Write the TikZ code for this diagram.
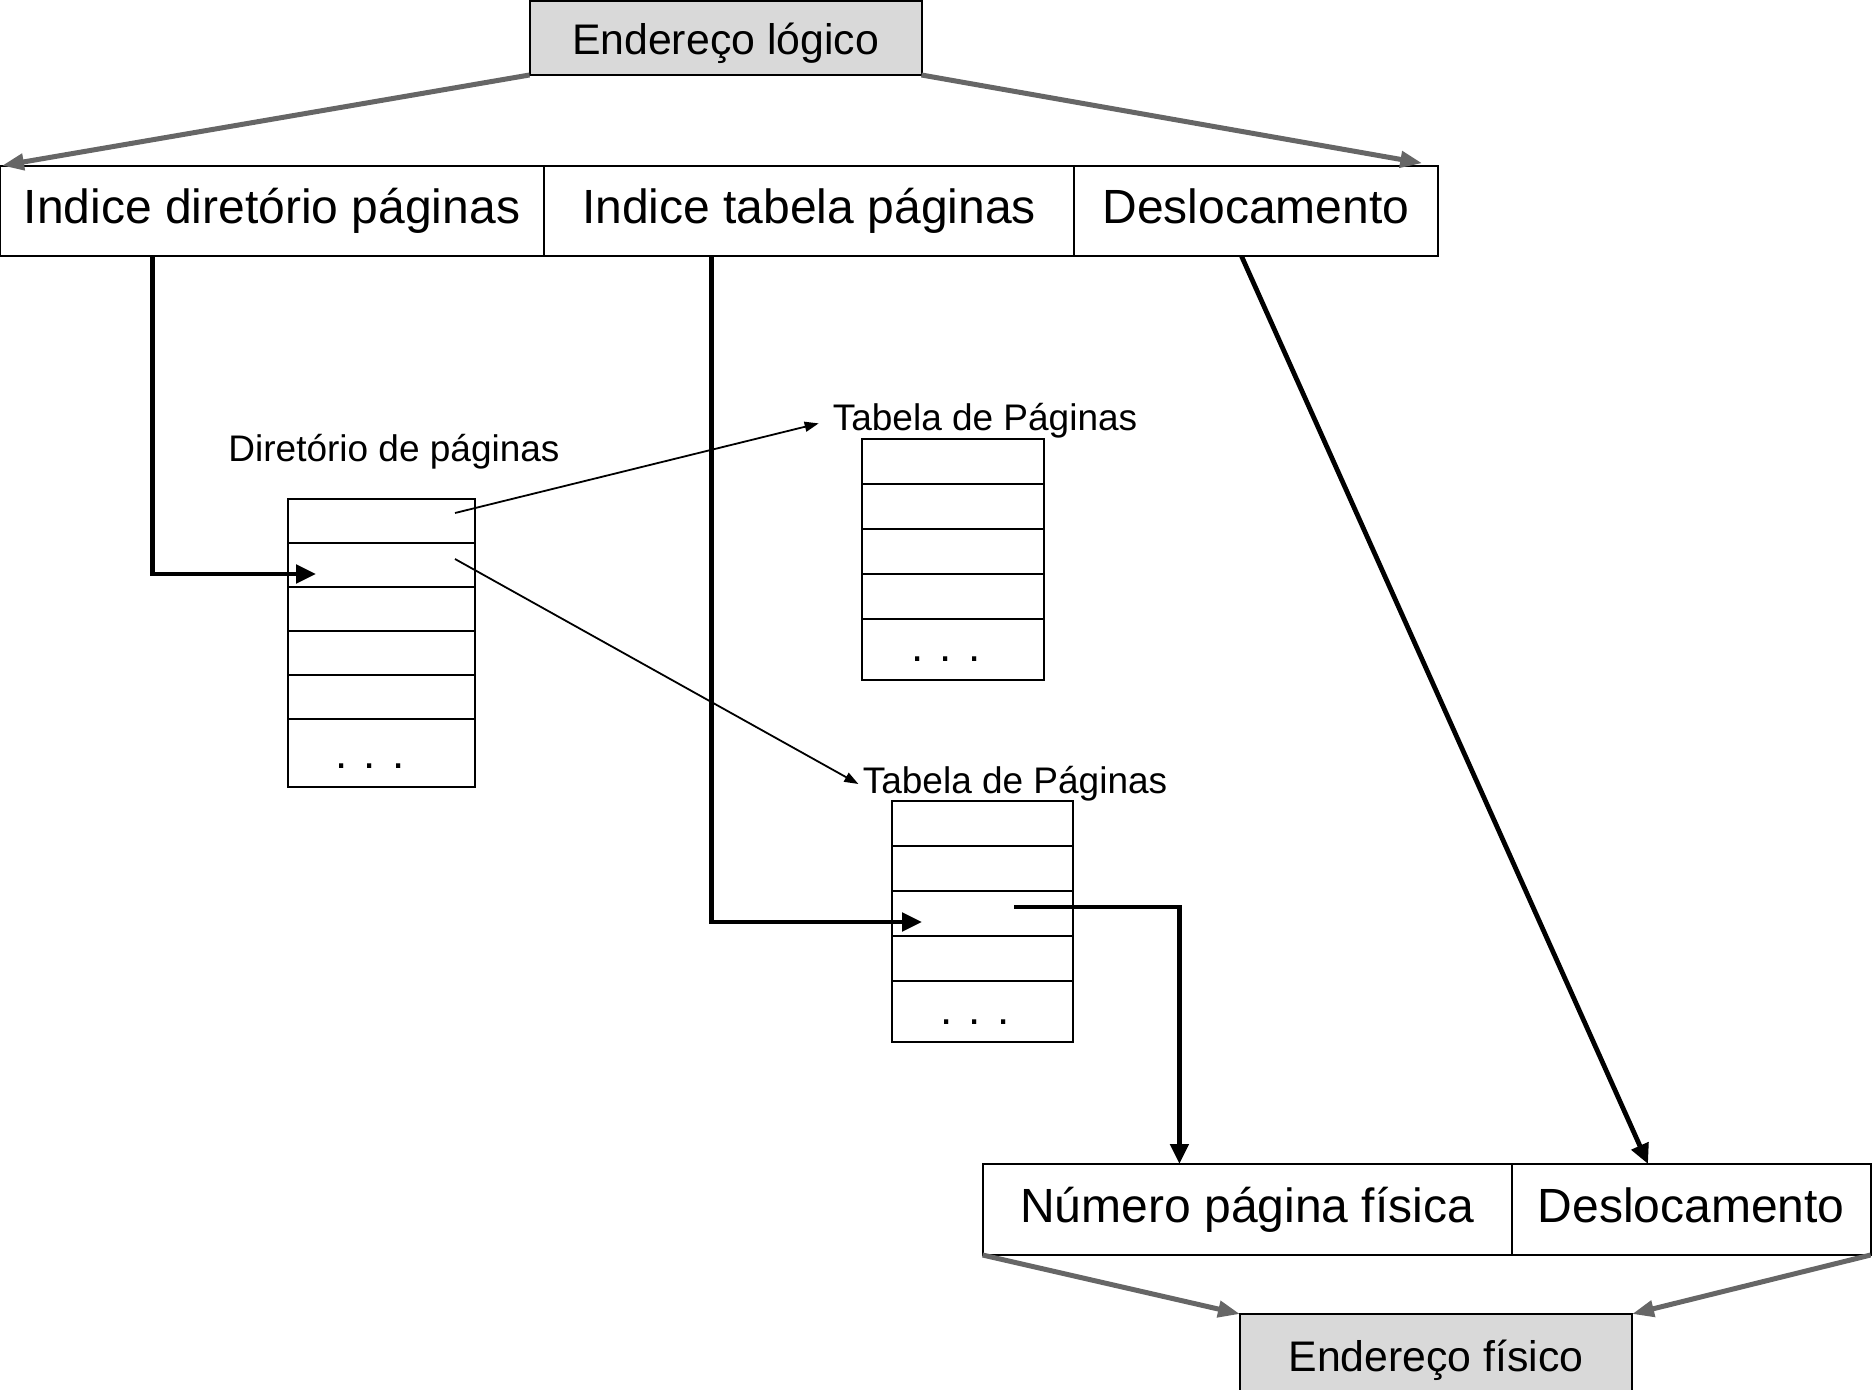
\documentclass[tikz,border=0pt]{standalone}
\usepackage{fontspec}
\setmainfont{Liberation Sans}
\usetikzlibrary{arrows.meta,calc}
\definecolor{boxgray}{HTML}{D9D9D9}
\definecolor{arrowgray}{HTML}{666666}

\begin{document}
\begin{tikzpicture}[x=0.5pt,y=-0.5pt,
  fieldbox/.style={draw, line width=1pt, inner sep=0pt, outer sep=0pt, minimum height=45pt, text height=18pt, text depth=5.5pt, font=\fontsize{24}{28}\selectfont},
  addrbox/.style={draw, line width=1pt, fill=boxgray, inner sep=0pt, outer sep=0pt, minimum width=196pt, text height=20.6pt, text depth=4.4pt, font=\fontsize{21.4}{25}\selectfont},
  cellbox/.style={draw, line width=1pt, inner sep=0pt, outer sep=0pt, minimum height=22pt, anchor=north west},
  tbltitle/.style={inner sep=2pt, font=\fontsize{18.5}{22}\selectfont},
  celldots/.style={inner sep=0pt, font=\fontsize{22}{26}\selectfont},
  splitarrow/.style={draw=arrowgray, line width=2.5pt, -{Triangle[length=11pt,width=8pt]}},
  linkarrow/.style={line width=2.4pt, -{Triangle[length=10pt,width=9pt]}},
  ptrarrow/.style={line width=0.9pt, -{Triangle[length=7pt,width=5pt]}}]
\useasboundingbox (0,0) rectangle (1872,1390);
\clip (0,0) rectangle (1872,1390);

% Logical address
\node[addrbox, minimum height=37pt] (logico) at (725.5,38) {Endereço lógico};
\node[fieldbox, minimum width=272pt, anchor=north west] (dir) at (0,166) {Indice diretório páginas};
\node[fieldbox, minimum width=265pt, anchor=north west] (tab) at (dir.north east) {Indice tabela páginas};
\node[fieldbox, minimum width=182pt, anchor=north west] (desl) at (tab.north east) {Deslocamento};

% Page directory
\node[tbltitle] (lbldir) at (394,452) {Diretório de páginas};
\node[cellbox, minimum width=93.5pt] (dirA) at (288,499) {};
\node[cellbox, minimum width=93.5pt] (dirB) at (dirA.south west) {};
\node[cellbox, minimum width=93.5pt] (dirC) at (dirB.south west) {};
\node[cellbox, minimum width=93.5pt] (dirD) at (dirC.south west) {};
\node[cellbox, minimum width=93.5pt] (dirE) at (dirD.south west) {};
\node[cellbox, minimum width=93.5pt, minimum height=34pt] (dirF) at (dirE.south west) {};
\node[celldots] (dirdots) at (370,766) {. . .};

% Page table (upper)
\node[tbltitle] (lblA) at (985,421) {Tabela de Páginas};
\node[cellbox, minimum width=90.75pt, minimum height=22.5pt] (tbaA) at (862,439) {};
\node[cellbox, minimum width=90.75pt, minimum height=22.5pt] (tbaB) at (tbaA.south west) {};
\node[cellbox, minimum width=90.75pt, minimum height=22.5pt] (tbaC) at (tbaB.south west) {};
\node[cellbox, minimum width=90.75pt, minimum height=22.5pt] (tbaD) at (tbaC.south west) {};
\node[cellbox, minimum width=90.75pt, minimum height=30.5pt] (tbaE) at (tbaD.south west) {};
\node[celldots] (tbadots) at (946,659) {. . .};

% Page table (lower)
\node[tbltitle] (lblB) at (1015,784) {Tabela de Páginas};
\node[cellbox, minimum width=90.5pt, minimum height=22.5pt] (tbbA) at (892,801) {};
\node[cellbox, minimum width=90.5pt, minimum height=22.5pt] (tbbB) at (tbbA.south west) {};
\node[cellbox, minimum width=90.5pt, minimum height=22.5pt] (tbbC) at (tbbB.south west) {};
\node[cellbox, minimum width=90.5pt, minimum height=22.5pt] (tbbD) at (tbbC.south west) {};
\node[cellbox, minimum width=90.5pt, minimum height=30.5pt] (tbbE) at (tbbD.south west) {};
\node[celldots] (tbbdots) at (975,1022) {. . .};

% Physical address
\node[fieldbox, minimum width=264.5pt, minimum height=45.5pt, anchor=north west] (fisica) at (982.6,1164) {Número página física};
\node[fieldbox, minimum width=179.5pt, minimum height=45.5pt, anchor=north west] (desl2) at (fisica.north east) {Deslocamento};
\node[addrbox, minimum height=41pt] (fisico) at (1436,1355) {Endereço físico};

% Split arrows
\draw[splitarrow, shorten >=1pt] (logico.south west) -- (dir.north west);
\draw[splitarrow, shorten >=8pt] (logico.south east) -- (desl.north east);
\draw[splitarrow] (fisica.south west) -- (fisico.north west);
\draw[splitarrow] (desl2.south east) -- (fisico.north east);

% Directory index
\coordinate (dirIn) at (316,574);
\draw[linkarrow] ($(dir.south west)!.28!(dir.south east)$) |- (dirIn);

% Table index
\coordinate (tabIn) at (922,922);
\draw[linkarrow] ($(tab.south west)!.316!(tab.south east)$) |- (tabIn);

% Offset
\draw[linkarrow] ($(desl.south west)!.46!(desl.south east)$) -- ($(desl2.north west)!.38!(desl2.north east)$);

% Frame number
\coordinate (tabOut) at (1014,907);
\draw[linkarrow] (tabOut) -| ($(fisica.north west)!.372!(fisica.north east)$);

% Directory entries
\coordinate (dirOutA) at (455,513);
\coordinate (dirOutB) at (455,559);
\draw[ptrarrow, shorten >=5pt] (dirOutA) -- (lblA.west);
\draw[ptrarrow] (dirOutB) -- (lblB.west);
\end{tikzpicture}
\end{document}
